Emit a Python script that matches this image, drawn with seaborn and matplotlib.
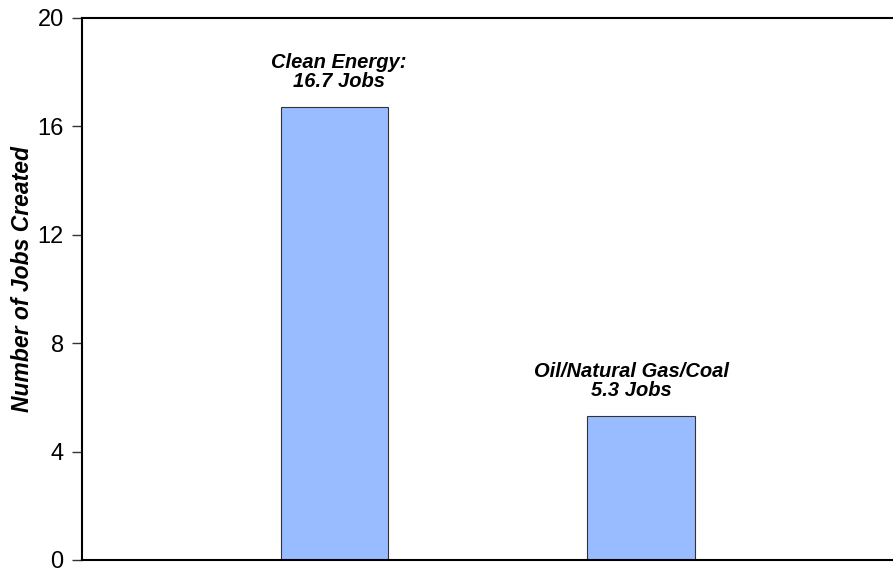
import pandas as pd
import matplotlib.pyplot as plt
import seaborn as sns

categories = ['Clean Energy', 'Oil/Natural Gas/Coal']
jobs = [16.7, 5.3]
bar_labels = ['Clean Energy:\n16.7 Jobs', 'Oil/Natural Gas/Coal\n5.3 Jobs']
yticks = [0, 4, 8, 12, 16, 20]

df = pd.DataFrame({'sector': categories, 'jobs': jobs})

sns.set_style('white')
plt.rcParams['font.family'] = ['Liberation Sans', 'DejaVu Sans']
plt.rcParams['text.color'] = 'black'
plt.rcParams['axes.labelcolor'] = 'black'
plt.rcParams['ytick.color'] = 'black'

fig = plt.figure(figsize=(8.93, 5.71), dpi=100)
ax = fig.add_axes([0.0918, 0.0193, 0.9082, 0.9492])

sns.barplot(data=df, x='sector', y='jobs', color='#99BBFF', saturation=1,
            width=0.352, edgecolor='#333333', linewidth=0.8, ax=ax)

# labels sit a little off-centre in the original
x_shift = [3, -7]
for i, (v, lab) in enumerate(zip(jobs, bar_labels)):
    ax.annotate(lab, (i, v), xytext=(x_shift[i], 12), textcoords='offset points',
                ha='center', va='bottom', fontsize=14.5, fontweight='bold',
                fontstyle='italic', linespacing=1.0, color='black')

ax.set_xlim(-0.824, 1.822)
ax.set_ylim(0, 20)
ax.set_yticks(yticks)
ax.set_xticks([])
ax.set_xlabel('')
ax.set_ylabel('Number of Jobs Created', fontsize=16.5, fontweight='bold',
              fontstyle='italic')
ax.yaxis.set_label_coords(-0.059, 0.518)
ax.tick_params(axis='y', direction='out', length=7.2, width=1, left=True,
               labelsize=17, pad=6, color='#333333', labelcolor='black')
ax.spines['right'].set_visible(False)
for s in ['left', 'top', 'bottom']:
    ax.spines[s].set_color('black')
    ax.spines[s].set_linewidth(1.5)

fig.savefig('out.png', dpi=100)
